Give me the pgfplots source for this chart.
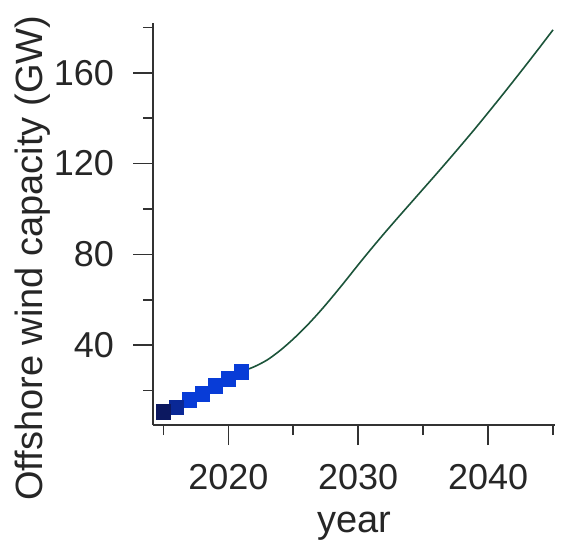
\documentclass[border=0pt]{standalone}
\usepackage{fontspec}
\setmainfont{Liberation Sans}
\usepackage{pgfplots}
\pgfplotsset{compat=1.18}
\definecolor{curvegreen}{RGB}{28,84,58}
\definecolor{navy1}{RGB}{12,24,96}
\definecolor{navy2}{RGB}{10,40,150}
\definecolor{blue3}{RGB}{8,60,215}
\definecolor{spine}{RGB}{50,50,50}
\begin{document}
\begin{tikzpicture}
\begin{axis}[
  scale only axis,
  width=201pt, height=201pt,
  xmin=2014.2, xmax=2045.15,
  ymin=4.8, ymax=181.9,
  axis lines=left,
  axis line style={-, line width=1pt, spine},
  tick align=outside,
  major tick length=10pt,
  minor tick length=5pt,
  tick style={line width=0.8pt, spine},
  xtick={2020,2030,2040},
  minor xtick={2015,2025,2035,2045},
  ytick={40,80,120,160},
  minor ytick={20,60,100,140,180},
  /pgf/number format/assume math mode=true,
  xticklabel={\pgfmathprintnumber[fixed,1000 sep={}]{\tick}},
  tick label style={font=\fontsize{18}{21.6}\selectfont, text=black!85},
  xticklabel style={yshift=-6pt},
  yticklabel style={xshift=-6pt},
  label style={font=\fontsize{19}{23}\selectfont, text=black!85},
  xlabel={year},
  ylabel={Offshore wind capacity (GW)},
  xlabel style={at={(axis description cs:0.5,-0.252)}, anchor=center},
  ylabel style={at={(axis description cs:-0.30,0.415)}, anchor=center, rotate=0},
  clip=false,
]
\addplot[curvegreen, line width=0.8pt, smooth] coordinates {
(2021,28.3) (2022,30.5) (2023,33.5) (2024,37.7) (2025,42.7) (2026,48.3)
(2027,54.5) (2028,61.2) (2029,68.2) (2030,75.4) (2031,82.4) (2032,89.2)
(2033,95.8) (2034,102.3) (2035,108.8) (2036,115.3) (2037,121.9) (2038,128.6)
(2039,135.4) (2040,142.4) (2041,149.5) (2042,156.7) (2043,164) (2044,171.4) (2045,178.9)
};
\addplot[only marks, mark=square*, mark size=3.7pt, mark options={draw=blue3, fill=blue3}] coordinates {
(2017,15.8) (2018,18.5) (2019,22) (2020,25) (2021,28.3)
};
\addplot[only marks, mark=square*, mark size=3.7pt, mark options={draw=navy2, fill=navy2}] coordinates {
(2016,12.6)
};
\addplot[only marks, mark=square*, mark size=3.7pt, mark options={draw=navy1, fill=navy1}] coordinates {
(2015,10.5)
};
\end{axis}
\pgfresetboundingbox
\path[use as bounding box] ([xshift=-76.5pt,yshift=-59pt]current axis.south west) rectangle ([xshift=3pt,yshift=11.5pt]current axis.north east);
\end{tikzpicture}
\end{document}
